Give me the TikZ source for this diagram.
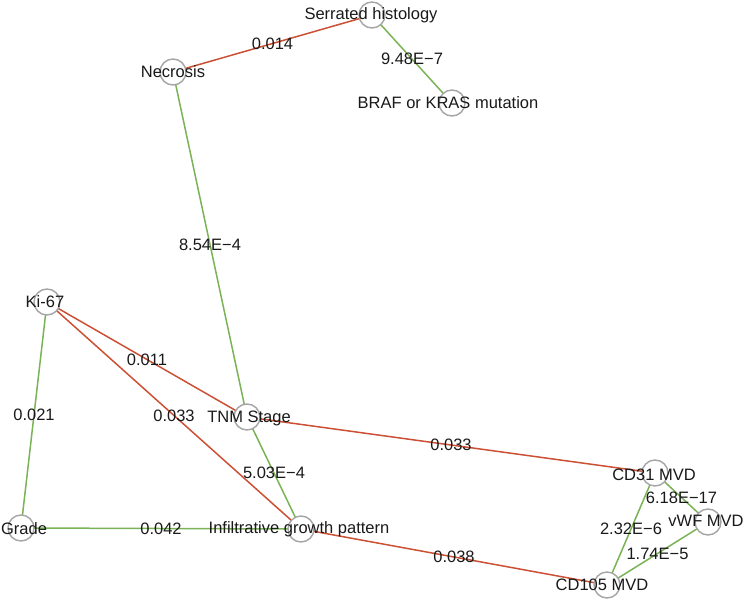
\documentclass[tikz,border=0pt]{standalone}
\usepackage{fontspec}
\setmainfont{Liberation Sans}
\definecolor{ered}{RGB}{203,80,52}
\definecolor{egreen}{RGB}{122,178,86}
\definecolor{vgray}{RGB}{165,165,165}
\tikzset{
  vtx/.style={circle,draw=vgray,fill=white,line width=1.4pt,minimum size=26pt,inner sep=0pt},
  lab/.style={inner sep=0pt,text=black!90,font=\fontsize{16.5}{18}\selectfont},
  ered/.style={draw=ered,line width=1.5pt},
  egreen/.style={draw=egreen,line width=1.5pt},
  elab/.style={midway,inner sep=0pt,text=black!90,font=\fontsize{16.5}{18}\selectfont}
}
\begin{document}
\begin{tikzpicture}[x=1pt,y=-1pt]
\useasboundingbox (0,0) rectangle (744,602);
% vertices
\coordinate (ser) at (372,15);
\coordinate (nec) at (173,72);
\coordinate (braf) at (452,103);
\coordinate (ki) at (47,302);
\coordinate (tnm) at (247,417);
\coordinate (gra) at (21,528);
\coordinate (inf) at (301,529);
\coordinate (cd31) at (655,473);
\coordinate (vwf) at (708,522);
\coordinate (cd105) at (607,585);
% edges
\draw[ered] (ser) -- node[elab] (e1) {0.014} (nec);
\draw[egreen] (ser) -- node[elab] (e2) {9.48E−7} (braf);
\draw[egreen] (nec) -- node[elab] (e3) {8.54E−4} (tnm);
\draw[ered] (ki) -- node[elab] (e4) {0.011} (tnm);
\draw[ered] (ki) -- node[elab] (e5) {0.033} (inf);
\draw[egreen] (ki) -- node[elab] (e6) {0.021} (gra);
\draw[egreen] (tnm) -- node[elab] (e7) {5.03E−4} (inf);
\draw[ered] (tnm) -- node[elab] (e8) {0.033} (cd31);
\draw[egreen] (gra) -- node[elab] (e9) {0.042} (inf);
\draw[ered] (inf) -- node[elab] (e10) {0.038} (cd105);
\draw[egreen] (cd31) -- node[elab] (e11) {6.18E−17} (vwf);
\draw[egreen] (cd31) -- node[elab] (e12) {2.32E−6} (cd105);
\draw[egreen] (vwf) -- node[elab] (e13) {1.74E−5} (cd105);
% circles
\foreach \v in {ser,nec,braf,ki,tnm,gra,inf,cd31,vwf,cd105}
  \node[vtx] (c\v) at (\v) {};
% labels
\node[lab] (lser) at (371,15) {Serrated histology};
\node[lab] (lnec) at (173,72) {Necrosis};
\node[lab] (lbraf) at (448,103) {BRAF or KRAS mutation};
\node[lab] (lki) at (45,302) {Ki-67};
\node[lab] (ltnm) at (249,418) {TNM Stage};
\node[lab] (lgra) at (24,529) {Grade};
\node[lab] (linf) at (299,529) {Infiltrative growth pattern};
\node[lab] (lcd31) at (654,475) {CD31 MVD};
\node[lab] (lvwf) at (706,521) {vWF MVD};
\node[lab] (lcd105) at (602,585) {CD105 MVD};
\end{tikzpicture}
\end{document}
